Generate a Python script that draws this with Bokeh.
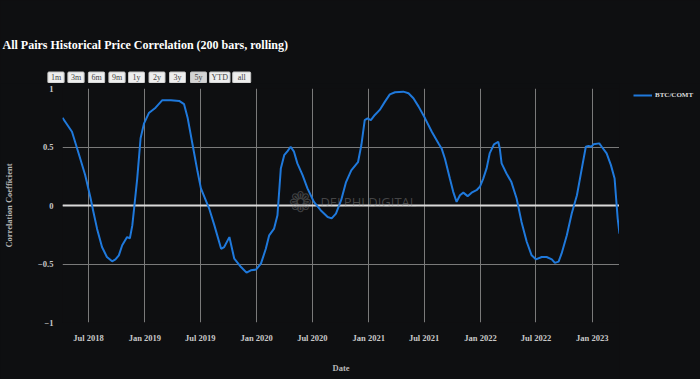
import math
import pandas as pd
from bokeh.plotting import figure
from bokeh.layouts import column, row
from bokeh.models import Range1d, FixedTicker, Label, Legend, LegendItem, Span, ColumnDataSource
from bokeh.embed import file_html
from bokeh.resources import INLINE

# ---------------- data ----------------
dates = [
    "2018-04-07", "2018-05-08", "2018-05-18", "2018-06-04", "2018-06-20",
    "2018-07-07", "2018-07-17", "2018-07-29", "2018-08-14", "2018-08-30",
    "2018-09-16", "2018-09-27", "2018-10-08", "2018-10-19", "2018-11-04",
    "2018-11-13", "2018-11-21", "2018-11-28", "2018-12-07", "2018-12-18",
    "2018-12-29", "2019-01-14", "2019-02-05", "2019-02-27", "2019-03-27",
    "2019-04-23", "2019-05-09", "2019-05-21", "2019-06-06", "2019-06-22",
    "2019-07-03", "2019-07-30", "2019-08-16", "2019-09-07", "2019-09-17",
    "2019-10-04", "2019-10-20", "2019-11-11", "2019-11-29", "2019-12-13",
    "2019-12-30", "2020-01-15", "2020-01-31", "2020-02-11", "2020-02-27",
    "2020-03-09", "2020-03-20", "2020-03-31", "2020-04-11", "2020-04-21",
    "2020-05-02", "2020-05-13", "2020-05-30", "2020-06-15", "2020-07-06",
    "2020-07-28", "2020-08-20", "2020-09-02", "2020-09-16", "2020-10-03",
    "2020-10-19", "2020-11-05", "2020-11-27", "2020-12-08", "2020-12-19",
    "2020-12-28", "2021-01-08", "2021-01-21", "2021-02-06", "2021-02-23",
    "2021-03-11", "2021-03-28", "2021-04-24", "2021-05-11", "2021-05-27",
    "2021-06-13", "2021-07-04", "2021-07-26", "2021-08-17", "2021-08-27",
    "2021-09-07", "2021-09-23", "2021-10-04", "2021-10-15", "2021-10-26",
    "2021-11-06", "2021-11-20", "2021-12-03", "2021-12-19", "2021-12-30",
    "2022-01-10", "2022-01-21", "2022-01-31", "2022-02-14", "2022-02-28",
    "2022-03-05", "2022-03-11", "2022-03-27", "2022-04-12", "2022-04-29",
    "2022-05-15", "2022-06-01", "2022-06-17", "2022-07-01", "2022-07-20",
    "2022-08-05", "2022-08-22", "2022-09-01", "2022-09-13", "2022-09-23",
    "2022-10-10", "2022-10-26", "2022-11-12", "2022-11-28", "2022-12-11",
    "2022-12-20", "2022-12-29", "2023-01-05", "2023-01-24", "2023-02-01",
    "2023-02-17", "2023-03-03", "2023-03-15", "2023-03-20", "2023-03-25",
    "2023-03-31",
]
corr = [
    0.75, 0.63, 0.545, 0.40, 0.26,
    0.07, -0.055, -0.20, -0.355, -0.44,
    -0.477, -0.46, -0.426, -0.34, -0.27,
    -0.28, -0.17, 0.003, 0.23, 0.575,
    0.70, 0.79, 0.836, 0.90, 0.90,
    0.894, 0.866, 0.745, 0.517, 0.29,
    0.146, -0.026, -0.17, -0.37, -0.355,
    -0.27, -0.455, -0.526, -0.574, -0.554,
    -0.548, -0.497, -0.37, -0.255, -0.197,
    -0.083, 0.317, 0.43, 0.465, 0.502,
    0.46, 0.36, 0.26, 0.146, 0.031,
    -0.04, -0.098, -0.11, -0.069, 0.045,
    0.20, 0.30, 0.37, 0.517, 0.73,
    0.745, 0.73, 0.774, 0.817, 0.888,
    0.95, 0.968, 0.973, 0.96, 0.917,
    0.845, 0.745, 0.63, 0.53, 0.488,
    0.40, 0.23, 0.117, 0.031, 0.088,
    0.11, 0.08, 0.11, 0.131, 0.16,
    0.23, 0.317, 0.445, 0.523, 0.545,
    0.488, 0.36, 0.274, 0.20, 0.06,
    -0.14, -0.31, -0.426, -0.46, -0.44,
    -0.44, -0.46, -0.49, -0.48, -0.41,
    -0.255, -0.069, 0.088, 0.317, 0.502,
    0.51, 0.502, 0.523, 0.531, 0.502,
    0.445, 0.345, 0.23, 0.06, -0.11,
    -0.24,
]
series_name = "BTC/COMT"
x_tick_dates = ["2018-07-01", "2019-01-01", "2019-07-01", "2020-01-01", "2020-07-01",
                "2021-01-01", "2021-07-01", "2022-01-01", "2022-07-01", "2023-01-01"]
x_tick_labels = ["Jul 2018", "Jan 2019", "Jul 2019", "Jan 2020", "Jul 2020",
                 "Jan 2021", "Jul 2021", "Jan 2022", "Jul 2022", "Jan 2023"]
y_ticks = [-1, -0.5, 0, 0.5, 1]
y_tick_labels = ["\u22121", "\u22120.5", "0", "0.5", "1"]
range_buttons = ["1m", "3m", "6m", "9m", "1y", "2y", "3y", "5y", "YTD", "all"]
active_button = "5y"
title_text = "All Pairs Historical Price Correlation (200 bars, rolling)"
x_title = "Date"
y_title = "Correlation Coefficient"

# ---------------- styling ----------------
BG = "#0e0f11"
GRID = "#7a7a7a"
LINE = "#1f79dc"
SERIF = "Liberation Serif"
W = 700
HEAD_H = 83
MAIN_H = 379 - HEAD_H
MAIN_W = 619
SIDE_W = W - MAIN_W
DARK = {"background-color": BG}


def plain(fig):
    fig.background_fill_color = BG
    fig.border_fill_color = BG
    fig.outline_line_color = None
    try:
        fig.frame_align = False
    except Exception:
        pass
    try:
        fig.styles = DARK
    except Exception:
        pass


# ---------------- header: title + range selector ----------------
head = figure(width=W, height=HEAD_H, output_backend="svg", toolbar_location=None,
              x_axis_type=None, y_axis_type=None, x_range=Range1d(0, 1), y_range=Range1d(0, 1),
              min_border=0)
plain(head)
head.grid.visible = False
head.add_layout(Label(x=2, y=HEAD_H - 44, x_units="screen", y_units="screen", text=title_text,
                      text_font=SERIF, text_font_style="bold", text_font_size="12px",
                      text_color="#ffffff", text_baseline="alphabetic", text_align="left"))
btn_cx = [55.5, 75.5, 96, 116.5, 136, 156.5, 177, 198, 219.3, 241.2]
btn_pad = [3, 3, 3, 3, 4, 4, 4, 4, 2, 5]
for name, cx, pad in zip(range_buttons, btn_cx, btn_pad):
    head.add_layout(Label(x=cx, y=HEAD_H - 77, x_units="screen", y_units="screen", text=name,
                          text_font=SERIF, text_font_size="8px", text_color="#444444",
                          text_align="center", text_baseline="middle",
                          background_fill_color="#d4d4d4" if name == active_button else "#eeeeee",
                          border_line_color="#c4c4c4", border_line_width=1,
                          padding=(pad, 1), border_radius=1))

# ---------------- main chart ----------------
dt = pd.to_datetime(dates)
src = ColumnDataSource(dict(date=dt, corr=corr))

p = figure(width=MAIN_W, height=MAIN_H, x_axis_type="datetime",
           output_backend="svg", toolbar_location=None,
           x_range=Range1d(dt[0], dt[-1]), y_range=Range1d(-1, 1),
           min_border_left=62, min_border_right=0, min_border_top=5, min_border_bottom=57)
plain(p)

r = p.line("date", "corr", source=src, line_color=LINE, line_width=2)

p.add_layout(Span(location=0, dimension="width", line_color="#d9d9d9", line_width=2, level="underlay"))

xt = [int(v) for v in (pd.to_datetime(x_tick_dates).astype("int64") // 10**6)]
p.xaxis.ticker = FixedTicker(ticks=xt)
p.xaxis.major_label_overrides = {k: lab for k, lab in zip(xt, x_tick_labels)}
p.yaxis.ticker = FixedTicker(ticks=y_ticks)
p.yaxis.major_label_overrides = {k: lab for k, lab in zip(y_ticks, y_tick_labels)}

for ax in (p.xaxis[0], p.yaxis[0]):
    ax.axis_line_color = None
    ax.major_tick_line_color = None
    ax.minor_tick_line_color = None
    ax.major_tick_out = 0
    ax.major_tick_in = 0
    ax.major_label_text_font = SERIF
    ax.major_label_text_font_style = "bold"
    ax.major_label_text_font_size = "8.5px"
    ax.major_label_text_color = "#c8c8c8"
    ax.axis_label_text_font = SERIF
    ax.axis_label_text_font_style = "bold"
    ax.axis_label_text_font_size = "8.5px"
    ax.axis_label_text_color = "#b8b8b8"
p.xaxis.major_label_standoff = 10
p.yaxis.major_label_standoff = 9
p.xaxis.axis_label = x_title
p.yaxis.axis_label = y_title
p.xaxis.axis_label_standoff = 17
p.yaxis.axis_label_standoff = 21

p.xgrid.grid_line_color = GRID
p.ygrid.grid_line_color = GRID

# watermark
p.add_layout(Label(x=306, y=121, x_units="screen", y_units="screen", text="DELPHI DIGITAL",
                   text_font="Open Sans", text_font_size="13px", text_color="#8a8a8a",
                   text_alpha=0.45, text_align="center", text_baseline="middle"))
p.add_layout(Label(x=238, y=120, x_units="screen", y_units="screen", text="\u2741",
                   text_font="DejaVu Sans", text_font_size="28px", text_color="#8a8a8a",
                   text_alpha=0.4, text_align="center", text_baseline="middle"))

# ---------------- side strip holding the legend ----------------
side = figure(width=SIDE_W, height=MAIN_H, output_backend="svg", toolbar_location=None,
              x_axis_type=None, y_axis_type=None, x_range=Range1d(0, 1), y_range=Range1d(0, 1),
              min_border=0)
plain(side)
side.grid.visible = False
# same series drawn here only to provide the legend swatch (falls outside this strip's ranges)
swatch = side.line("date", "corr", source=src, line_color=LINE, line_width=2)
legend = Legend(items=[LegendItem(label=series_name, renderers=[swatch])],
                location=(14, MAIN_H - 17), glyph_width=19, glyph_height=10, label_height=10,
                label_standoff=3, padding=0, margin=0, spacing=0,
                border_line_color=None, background_fill_alpha=0,
                label_text_font=SERIF, label_text_font_style="bold",
                label_text_font_size="7px", label_text_color="#dddddd")
side.add_layout(legend)

body = row(p, side, spacing=0, styles=DARK)
layout = column(head, body, spacing=0, styles=DARK)
open("out.html", "w").write(file_html(layout, INLINE))
